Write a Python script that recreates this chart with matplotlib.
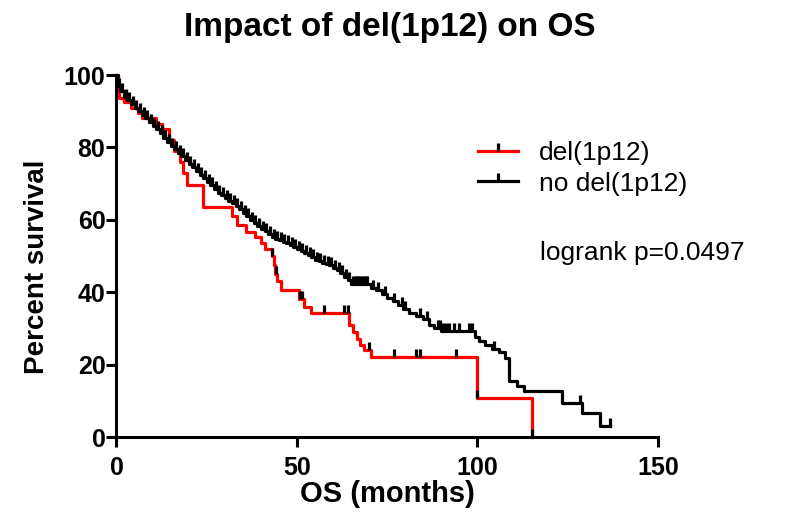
import numpy as np
import matplotlib
matplotlib.use("Agg")
import matplotlib.pyplot as plt
from matplotlib.lines import Line2D

# === DATA ===
# no del(1p12): step times (months) and survival (%) after each step
black_t = [0, 0.5, 1, 2, 3, 4, 5, 6, 7, 8, 9, 10, 11, 12, 13, 14, 15, 16, 17, 18,
           19, 20, 21, 22, 23, 24, 25, 26, 27, 28, 29, 30, 31, 32, 33, 34, 35, 36,
           37, 38, 39, 40, 41, 42, 43, 44, 45, 46, 47, 48, 49, 50, 51, 52, 53, 54,
           55, 56, 57, 58, 59, 60, 61, 62, 63, 64, 65, 70.5, 72, 73.5, 75, 76.5,
           78, 79.5, 81, 83, 85, 86.5, 88, 90, 99.2, 100.5, 102, 104, 106, 107.5,
           108.7, 111, 113, 123.5, 129, 133.8, 136.6]
black_s = [100, 97, 95.5, 94, 93, 92, 91, 90, 89, 88, 87, 86, 85, 84, 82.5, 81.5,
           80.5, 79.5, 78.5, 77.5, 76.5, 75.5, 74.5, 73.5, 72.5, 71.5, 70.5, 69.5,
           68.5, 67.5, 66.8, 66, 65.3, 64.6, 63.8, 63, 62, 61, 60, 59.2, 58.4, 57.6,
           56.8, 56, 55.3, 54.8, 54.3, 53.9, 53.5, 53, 52.5, 52, 51.5, 50.8, 50.2,
           49.6, 49, 48.6, 48.2, 47.8, 47.4, 46.8, 46, 45.2, 44.3, 43.4, 42.2, 41.3,
           40.5, 39.5, 38.5, 37.5, 36.5, 35.5, 34.3, 33.5, 32.5, 31, 30, 29.2, 27.5,
           26.5, 25.5, 24.3, 23.4, 21.8, 15.6, 14.2, 12.8, 9.5, 6.7, 3, 3]
black_censor = [0.7, 1.5, 2.5, 3.5, 4.5, 5.5, 6.5, 7.5, 8.5, 9.5, 10.5, 11.5, 12.5,
                13.5, 14.5, 15.5, 16.5, 17.5, 18.5, 19.5, 20.5, 21.5, 22.5, 23.5,
                24.5, 25.5, 26.5, 27.5, 28.5, 29.5, 30.5, 31.5, 32.5, 33.5, 34.5,
                35.5, 36.5, 37.5, 38.5, 39.5, 40.5, 41.5, 42.5, 43.5, 44.5, 45.5,
                46.5, 47.5, 48.5, 49.5, 50.5, 51.5, 52.5, 53.5, 54.5, 55.5, 56.5,
                57.5, 58.5, 59.5, 60.5, 61.5, 62.5, 63.5, 64.5, 65.5, 66, 66.5, 67,
                67.5, 68, 68.5, 69, 69.5, 71, 72.5, 74.5, 77, 79, 80, 84, 86, 89,
                89.7, 90.5, 91.2, 92, 93.4, 95, 97.6, 98.4, 104.5, 128.5, 136.6]

# del(1p12)
red_t = [0, 0.3, 0.8, 2, 4, 6, 7, 11, 12.5, 14.5, 16, 17.5, 18.5, 19.5, 24, 32,
         33.5, 36, 38.5, 40, 41, 43, 43.5, 44, 44.5, 45.5, 50.5, 52, 54, 64.5,
         65.5, 66.5, 67.5, 68.6, 70.5, 100, 115]
red_s = [100, 97, 93.6, 92.5, 91, 89.5, 88.2, 86.5, 85, 82, 79, 76, 73, 69.5,
         63.6, 61, 58.5, 56.5, 55.2, 53.7, 52, 50, 47.5, 45, 43, 40.7, 38, 36,
         34.2, 31, 29, 27, 25.5, 24, 22, 10.9, 0]
red_censor = [43.2, 44.2, 50.8, 51.3, 57.5, 63, 64, 70, 77, 83, 84, 94, 100, 115]

labels = ["del(1p12)", "no del(1p12)"]
x_ticks = [0, 50, 100, 150]
y_ticks = [0, 20, 40, 60, 80, 100]


def surv_at(t, s, times):
    idx = np.searchsorted(t, times, side="right") - 1
    return np.asarray(s)[idx]


plt.rcParams["font.family"] = ["Liberation Sans", "DejaVu Sans"]

fig = plt.figure(figsize=(7.85, 5.21), dpi=100)
ax = fig.add_axes([0.1484, 0.1612, 0.6898, 0.6948])

tick_up = [(0, 0), (0, 1)]
lw = 2.3

ax.step(black_t, black_s, where="post", color="black", lw=lw, clip_on=False, zorder=3)
ax.plot(black_censor, surv_at(black_t, black_s, black_censor), ls="none",
        marker=tick_up, ms=12, mew=2.3, color="black", clip_on=False, zorder=4)

ax.step(red_t, red_s, where="post", color="#ff0000", lw=lw, clip_on=False, zorder=2)
ax.plot(red_censor, surv_at(red_t, red_s, red_censor), ls="none",
        marker=tick_up, ms=12, mew=2.3, color="black", clip_on=False, zorder=4)

ax.set_xlim(0, 150)
ax.set_ylim(0, 100)
ax.set_xticks(x_ticks)
ax.set_yticks(y_ticks)
for sp in ["top", "right"]:
    ax.spines[sp].set_visible(False)
for sp in ["left", "bottom"]:
    ax.spines[sp].set_linewidth(2.2)
ax.tick_params(axis="both", width=2.2, length=7, labelsize=18)
ax.tick_params(axis="x", pad=7)
ax.tick_params(axis="y", pad=1)
for lab in ax.get_xticklabels() + ax.get_yticklabels():
    lab.set_fontweight("bold")

fig.text(0.496, 0.948, "Impact of del(1p12) on OS", ha="center", va="center",
         fontsize=24, fontweight="bold")
ax.set_xlabel("OS (months)", fontsize=21, fontweight="bold", labelpad=0)
fig.text(0.047, 1 - 267 / 521, "Percent survival", rotation=90, ha="center",
         va="center", fontsize=20, fontweight="bold")

handles = [
    Line2D([], [], color="#ff0000", lw=lw, marker=tick_up, ms=12, mew=2.3,
           markeredgecolor="black"),
    Line2D([], [], color="black", lw=lw, marker=tick_up, ms=12, mew=2.3),
]
ax.legend(handles, labels, loc="upper left", bbox_to_anchor=(478 / 785, 1 - 141 / 521),
          bbox_transform=fig.transFigure, frameon=False, fontsize=19,
          handlelength=1.5, handletextpad=0.8, labelspacing=0.25, borderpad=0,
          borderaxespad=0)

fig.text(540 / 785, 1 - 253 / 521, "logrank p=0.0497", ha="left", va="center",
         fontsize=19)

fig.savefig("out.png", dpi=100)
